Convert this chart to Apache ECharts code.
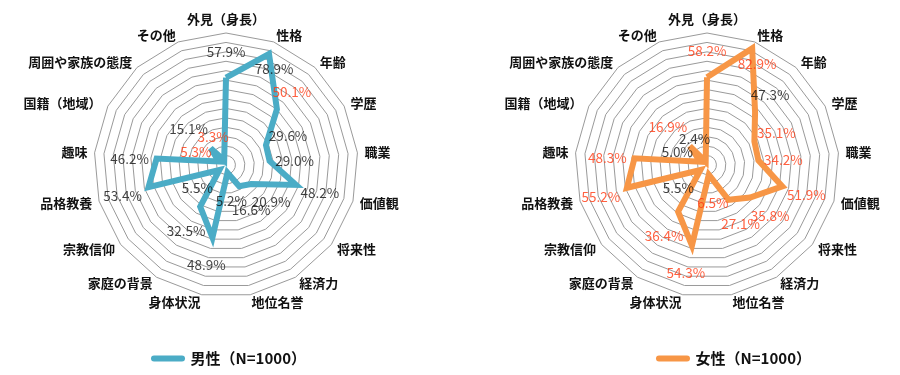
<!DOCTYPE html>
<html><head><meta charset="utf-8">
<script src="https://cdn.jsdelivr.net/npm/echarts@6/dist/echarts.min.js"></script>
<style>html,body{margin:0;padding:0;background:#fff}#c{width:900px;height:375px}</style>
</head><body><div id="c"></div>
<script>
// ---- data ----
const categories = ['外見（身長）','性格','年齢','学歴','職業','価値観','将来性','経済力','地位名誉','身体状況','家庭の背景','宗教信仰','品格教養','趣味','国籍（地域）','周囲や家族の態度','その他'];
const maleValues   = [57.9,78.9,50.1,29.6,29.0,48.2,20.9,16.6,5.2,48.9,32.5,5.5,53.4,46.2,5.3,15.1,3.3];
const femaleValues = [58.2,82.9,47.3,35.1,34.2,51.9,35.8,27.1,6.5,54.3,36.4,5.5,55.2,48.3,5.0,16.9,2.4];
const seriesNames  = ['男性（N=1000）','女性（N=1000）'];

// ---- layout / style ----
const labelOffsets = [[0,-26],[5,15],[15,-17],[22,-9],[25,0],[24,8],[20,18],[12,24],[4,28],[-6,27],[-14,24],[-22,18],[-26,9],[-27,0],[-23,-10],[-22,-19],[-11,-23]];
const AXIS_MAX = 87.5, SPLITS = 14, R = 132, CY = 165;
const centersX = [226, 707];
const lineColors = ['#4bacc6', '#f79646'];
const RED = '#ff3a12', BLACK = '#111111';
const FONT = "'Noto Sans CJK JP', 'Noto Sans', sans-serif";
const n = categories.length;
const order = categories.map((_, i) => (n - i) % n); // clockwise layout

const chart = echarts.init(document.getElementById('c'), null, {renderer: 'canvas'});

function radarCfg(cx) {
  return {
    center: [cx, CY], radius: R, startAngle: 90, shape: 'polygon', splitNumber: SPLITS,
    indicator: order.map(i => ({name: categories[i], min: 0, max: AXIS_MAX})),
    axisName: {color: BLACK, fontSize: 13, fontWeight: 'bold', fontFamily: FONT},
    nameGap: 7,
    splitLine: {lineStyle: {color: '#9a9a9a', width: 1}},
    splitArea: {show: false},
    axisLine: {show: false},
    axisTick: {show: false},
    axisLabel: {show: false}
  };
}

const allVals = [maleValues, femaleValues];
const series = [];
allVals.forEach((vals, s) => {
  series.push({
    type: 'radar', radarIndex: s, name: seriesNames[s], color: lineColors[s],
    symbol: 'none', silent: true,
    lineStyle: {color: lineColors[s], width: 6, join: 'miter', miterLimit: 4},
    data: [{name: seriesNames[s], value: order.map(i => vals[i])}]
  });
});
allVals.forEach((vals, s) => {
  const other = allVals[1 - s];
  series.push({
    type: 'scatter', coordinateSystem: 'polar', polarIndex: s, name: 'lbl' + s,
    symbol: 'circle', symbolSize: 1, silent: true, z: 10,
    itemStyle: {color: 'transparent'},
    label: {show: true, position: 'inside', fontSize: 13.5, fontFamily: FONT,
      formatter: p => p.value[0].toFixed(1) + '%'},
    data: vals.map((v, i) => ({
      value: [v, i],
      label: {offset: labelOffsets[i], color: v > other[i] ? RED : BLACK}
    }))
  });
});

const capsule = 'path://M3,0 L31,0 A3,3 0 0 1 31,6 L3,6 A3,3 0 0 1 3,0 Z';
chart.setOption({
  backgroundColor: '#fff',
  animation: false,
  radar: [radarCfg(centersX[0]), radarCfg(centersX[1])],
  polar: centersX.map(cx => ({center: [cx, CY], radius: R})),
  angleAxis: centersX.map((_, s) => ({polarIndex: s, type: 'value', min: 0, max: n, startAngle: 90, clockwise: true, show: false})),
  radiusAxis: centersX.map((_, s) => ({polarIndex: s, type: 'value', min: 0, max: AXIS_MAX, show: false})),
  legend: [
    {data: [seriesNames[0]], left: 146, top: 346, icon: capsule, itemWidth: 35, itemHeight: 6, itemGap: 3,
     textStyle: {fontSize: 15, color: BLACK, fontFamily: FONT, fontWeight: 'bold'}, selectedMode: false},
    {data: [seriesNames[1]], left: 651, top: 346, icon: capsule, itemWidth: 35, itemHeight: 6, itemGap: 3,
     textStyle: {fontSize: 15, color: BLACK, fontFamily: FONT, fontWeight: 'bold'}, selectedMode: false}
  ],
  series: series
});
</script></body></html>
